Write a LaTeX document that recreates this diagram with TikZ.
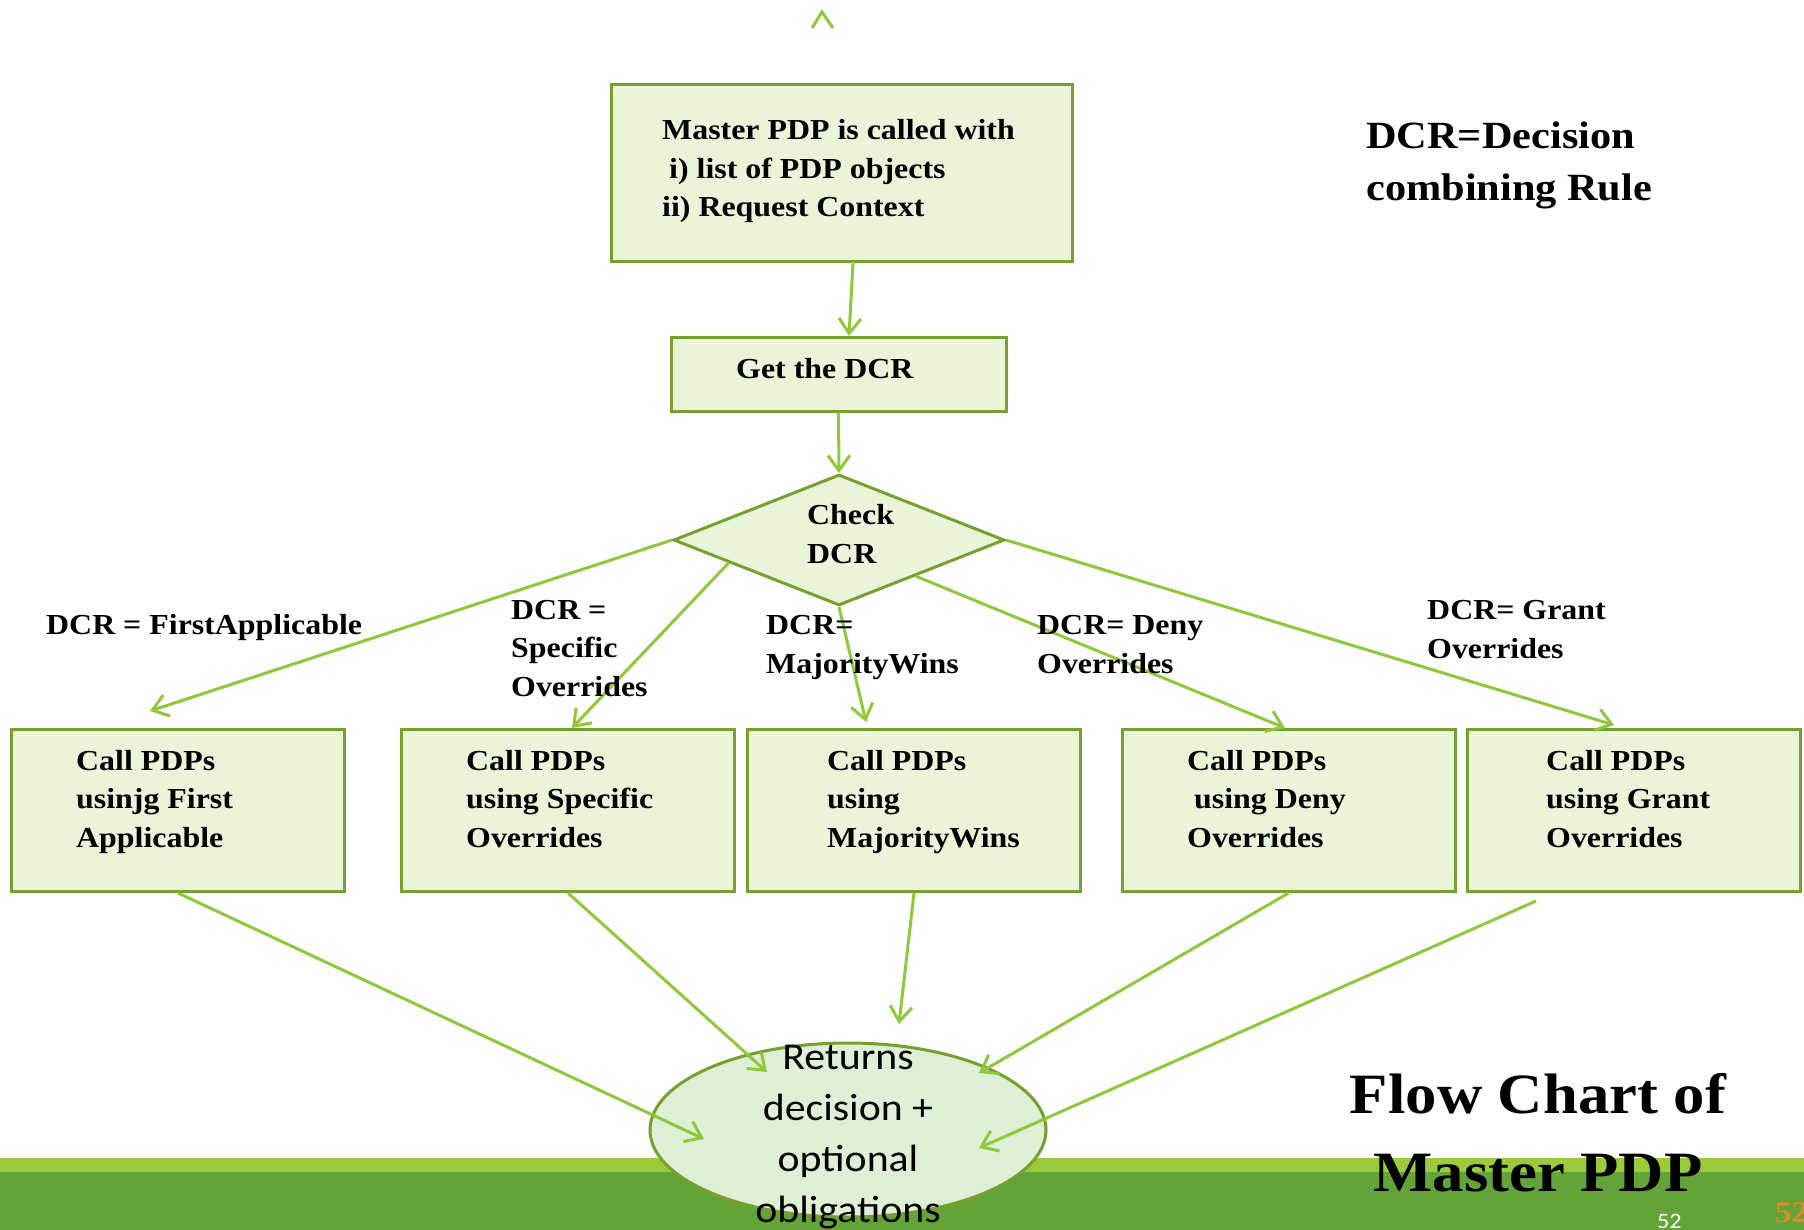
\documentclass[tikz,border=0pt]{standalone}
\usepackage{fontspec}
\setmainfont{Liberation Serif}[FakeStretch=1.1]
\newfontfamily\bodysans{Carlito}[FakeStretch=1.1]
\usetikzlibrary{shapes.geometric,arrows.meta,calc}

\definecolor{boxfill}{HTML}{EAF4D8}
\definecolor{boxline}{HTML}{76A030}
\definecolor{arrowc}{HTML}{90C83C}
\definecolor{ellfill}{HTML}{DDEFD4}
\definecolor{ellline}{HTML}{779F2F}
\definecolor{bandlight}{HTML}{9BCB3A}
\definecolor{banddark}{HTML}{62A438}
\definecolor{pagenum}{HTML}{E08A1E}

\begin{document}
\begin{tikzpicture}[x=1pt,y=-1pt,
  box/.style={draw=boxline,fill=boxfill,line width=3pt,rectangle,inner sep=0pt},
  callbox/.style={box,minimum width=333pt,minimum height=162pt},
  flow/.style={draw=arrowc,line width=3pt,-{Straight Barb[length=15pt,width=22pt]}},
  txt/.style={font=\bfseries\fontsize{29}{38.5}\selectfont,align=left,anchor=base west,inner sep=0pt},
  bigtxt/.style={font=\bfseries\fontsize{38.5}{52}\selectfont,align=left,anchor=base west,inner sep=0pt}
]
\useasboundingbox (0,0) rectangle (1804,1230);

% footer bands
\fill[bandlight] (0,1158) rectangle (1804,1172);
\fill[banddark] (0,1172) rectangle (1804,1230);

% shapes
\node[box,minimum width=461pt,minimum height=177pt] (master) at (841.5,173.5) {};
\node[box,minimum width=335pt,minimum height=73pt] (getdcr) at (838.5,374.5) {};
\node[draw=boxline,fill=boxfill,line width=3pt,diamond,inner sep=0pt,
      minimum width=331pt,minimum height=131pt] (dia) at (839,540) {};
\node[callbox] (b1) at (178,810.5) {};
\node[callbox] (b2) at (568,810.5) {};
\node[callbox] (b3) at (914,810.5) {};
\node[callbox] (b4) at (1288.5,810.5) {};
\node[callbox] (b5) at (1634,810.5) {};
\node[draw=ellline,fill=ellfill,line width=3pt,ellipse,inner sep=0pt,
      minimum width=396pt,minimum height=174pt] (ret) at (848,1130) {};

% connector end points
\coordinate (mOut) at (853,262);
\coordinate (gIn) at (849,336);
\coordinate (d2) at ($(dia.west)!0.34!(dia.south)$);
\coordinate (d4) at ($(dia.south)!0.46!(dia.east)$);
\coordinate (t1) at (150,711);
\coordinate (t2) at (572,728);
\coordinate (t3) at (866,722);
\coordinate (t4) at (1285,728);
\coordinate (t5) at (1614,725);
\coordinate (s5) at (1536,901);
\coordinate (e1) at (704,1139);
\coordinate (e2) at (767,1072);
\coordinate (e3) at (899,1024);
\coordinate (e4) at (979,1073);
\coordinate (e5) at (979,1148);

% connectors
\draw[flow] (mOut) -- (gIn);
\draw[flow] (getdcr.south) -- (dia.north);
\draw[flow] (dia.west) -- (t1);
\draw[flow] (d2) -- (t2);
\draw[flow] (dia.south) -- (t3);
\draw[flow] (d4) -- (t4);
\draw[flow] (dia.east) -- (t5);
\draw[flow] (b1.south) -- (e1);
\draw[flow] (b2.south) -- (e2);
\draw[flow] (b3.south) -- (e3);
\draw[flow] (b4.south) -- (e4);
\draw[flow] (s5) -- (e5);

% stray arrow tip at the top
\draw[arrowc,line width=3pt] (812,28) -- (822,12) -- (833,28);

% box texts (anchored at the baseline of the last line)
\node[txt] (mastertxt) at (662,217) {Master PDP is called with\\\hspace*{7pt}i) list of PDP objects\\ii) Request Context};
\node[txt] (getdcrtxt) at (736,378) {Get the DCR};
\node[txt] (diatxt) at (807,563) {Check\\DCR};
\node[txt] (b1txt) at (76,847) {Call PDPs\\usinjg First\\Applicable};
\node[txt] (b2txt) at (466,847) {Call PDPs\\using Specific\\Overrides};
\node[txt] (b3txt) at (827,847) {Call PDPs\\using\\MajorityWins};
\node[txt] (b4txt) at (1187,847) {Call PDPs\\\hspace*{7pt}using Deny\\Overrides};
\node[txt] (b5txt) at (1546,847) {Call PDPs\\using Grant\\Overrides};

% branch labels
\node[txt] (l1) at (46,634) {DCR = FirstApplicable};
\node[txt] (l2) at (511,696) {DCR =\\Specific\\Overrides};
\node[txt] (l3) at (766,673) {DCR=\\MajorityWins};
\node[txt] (l4) at (1037,673) {DCR= Deny\\Overrides};
\node[txt] (l5) at (1427,658) {DCR= Grant\\Overrides};

% legend and title
\node[bigtxt] (legend) at (1366,201) {DCR=Decision\\combining Rule};
\node[font=\bfseries\fontsize{57}{78}\selectfont,align=center,anchor=base,inner sep=0pt]
  (title) at (1538,1191) {Flow Chart of\\Master PDP};

% ellipse text
\node[font=\bodysans\fontsize{38}{51}\selectfont,align=center,anchor=base,inner sep=0pt]
  (rettxt) at (848,1222) {Returns\\decision +\\optional\\obligations};

% page numbers
\node[font=\bodysans\fontsize{22}{26}\selectfont,text=white,anchor=base west,inner sep=0pt]
  (pnum) at (1657,1228) {52};
\node[font=\bfseries\fontsize{30}{34}\selectfont,text=pagenum,anchor=base west,inner sep=0pt]
  (pnum2) at (1775,1222) {52};
\end{tikzpicture}
\end{document}
